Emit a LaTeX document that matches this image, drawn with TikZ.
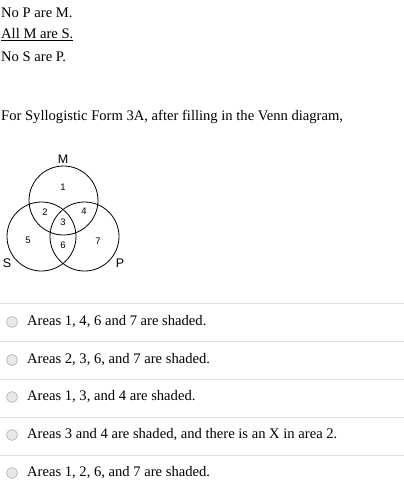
\documentclass[tikz,border=0pt]{standalone}
\usepackage{xcolor}
\usepackage{fontspec}
\setmainfont{Liberation Serif}
\setsansfont{Liberation Sans}
\usepackage{tikz}

\tikzset{
  txt/.style={draw=none, anchor=west, inner sep=0pt, font=\fontsize{14.6}{16}\selectfont},
  lbl/.style={draw=none, inner sep=0pt, font=\sffamily\fontsize{9.5}{10}\selectfont},
  setlbl/.style={draw=none, inner sep=0pt, font=\sffamily\fontsize{12.5}{13}\selectfont},
  radio/.style={draw=gray!60, fill=gray!18, line width=.6pt},
  sep/.style={draw=gray!25, line width=.8pt}
}

\begin{document}
\begin{tikzpicture}[x=1pt, y=-1pt]
             \useasboundingbox (0,0) rectangle (404,498);

             \node[txt] (p1) at (1, 13) {No P are M.};
             \node[txt] (p2) at (1, 35) {\underline{All M are S.}};
             \node[txt] (cc) at (1, 57) {No S are P.};

             \node[txt] (q) at (1, 117) {For Syllogistic Form 3A, after filling in the Venn diagram,};

             % venn
             \draw[line width=.8pt] (63.5, 200.5) circle (34.5);
             \draw[line width=.8pt] (41.5, 236.5) circle (34.5);
             \draw[line width=.8pt] (84.5, 236.5) circle (34.5);

             \node[setlbl] (M) at (63, 159) {M};
             \node[setlbl] (S) at (7, 263) {S};
             \node[setlbl] (P) at (120, 263) {P};

             \node[lbl] (r1) at (63, 187) {1};
             \node[lbl] (r2) at (45, 212) {2};
             \node[lbl] (r3) at (63, 222) {3};
             \node[lbl] (r4) at (84, 211) {4};
             \node[lbl] (r5) at (28, 240) {5};
             \node[lbl] (r6) at (63, 245) {6};
             \node[lbl] (r7) at (98, 241) {7};

             % answers
             \draw[sep] (0, 303) -- (404, 303);
             \draw[radio] (12, 322) circle (5.5);
             \node[txt] (a1) at (27, 322) {Areas 1, 4, 6 and 7 are shaded.};

             \draw[sep] (0, 341) -- (404, 341);
             \draw[radio] (12, 360) circle (5.5);
             \node[txt] (a2) at (27, 360) {Areas 2, 3, 6, and 7 are shaded.};

             \draw[sep] (0, 379) -- (404, 379);
             \draw[radio] (12, 397) circle (5.5);
             \node[txt] (a3) at (27, 397) {Areas 1, 3, and 4 are shaded.};

             \draw[sep] (0, 417) -- (404, 417);
             \draw[radio] (12, 435) circle (5.5);
             \node[txt] (a4) at (27, 435) {Areas 3 and 4 are shaded, and there is an X in area 2.};

             \draw[sep] (0, 455) -- (404, 455);
             \draw[radio] (12, 473) circle (5.5);
             \node[txt] (a5) at (27, 473) {Areas 1, 2, 6, and 7 are shaded.};
\end{tikzpicture}
\end{document}
